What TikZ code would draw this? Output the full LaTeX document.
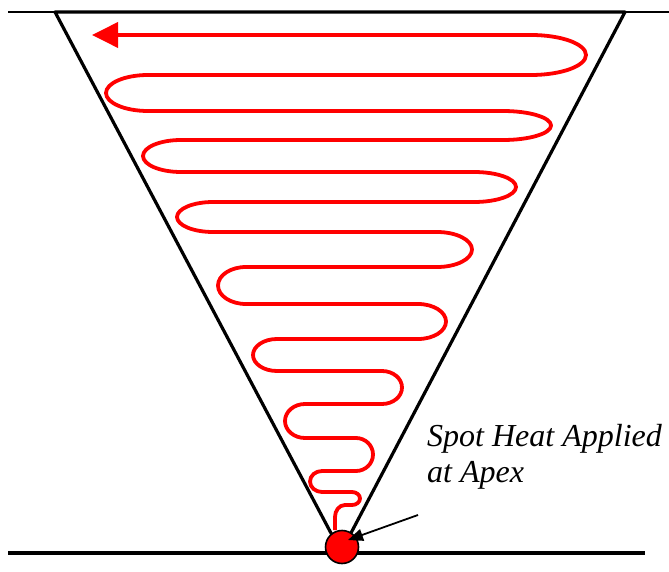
\documentclass[tikz,border=0pt]{standalone}
\usepackage{fontspec}
\setmainfont{Liberation Serif}
\usetikzlibrary{arrows.meta}

\begin{document}
\begin{tikzpicture}[x=1pt, y=1pt, line join=round]
				
				\useasboundingbox (0,0) rectangle (669,571);
				
				% Lines and cone
				\coordinate (TL) at (55,559);
				\coordinate (TR) at (625,559);
				\coordinate (P) at (341,19);
				\coordinate (G1) at (8,18);
				\coordinate (G2) at (645,18);
				\coordinate (S1) at (8,559);
				\coordinate (S2) at (669,559);
				
				\draw[black, line width=2.4pt] (S1) -- (S2);
				\draw[black, line width=3.2pt] (G1) -- (G2);
				\draw[black, line width=3.2pt] (TL) -- (P) -- (TR) -- cycle;
				
				% Heat path
				\draw[red, line width=3.8pt, -{Triangle[length=26pt, width=25pt]}]
				(335,41) -- (335,54) to[out=90, in=180] (345,66)
				-- (352,66) arc[start angle=-90, end angle=90, x radius=8, y radius=6.5]
				-- (322,79) arc[start angle=270, end angle=90, x radius=12, y radius=10.5]
				-- (356,100) arc[start angle=-90, end angle=90, x radius=17, y radius=16.5]
				-- (305,133) arc[start angle=270, end angle=90, x radius=20, y radius=17]
				-- (382,167) arc[start angle=-90, end angle=90, x radius=20, y radius=16.5]
				-- (277,200) arc[start angle=270, end angle=90, x radius=24, y radius=16]
				-- (418,232) arc[start angle=-90, end angle=90, x radius=28, y radius=17.5]
				-- (246,267) arc[start angle=270, end angle=90, x radius=28, y radius=18.5]
				-- (437,304) arc[start angle=-90, end angle=90, x radius=35, y radius=17.5]
				-- (213,339) arc[start angle=270, end angle=90, x radius=36, y radius=15]
				-- (474,369) arc[start angle=-90, end angle=90, x radius=42, y radius=15]
				-- (181,399) arc[start angle=270, end angle=90, x radius=38, y radius=16]
				-- (503,431) arc[start angle=-90, end angle=90, x radius=48, y radius=14.5]
				-- (148,460) arc[start angle=270, end angle=90, x radius=42, y radius=18]
				-- (531,496) arc[start angle=-90, end angle=90, x radius=55, y radius=20]
				-- (92,536);
				
				% Apex spot + label
				\node[circle, draw=black, line width=1.6pt, fill=red,
				inner sep=0pt, minimum size=33pt] (apex) at (342,24) {};
				
				\node[anchor=base west, align=left, inner sep=0pt,
				font=\itshape\fontsize{32}{36}\selectfont] (label) at (427,89)
				{Spot Heat Applied\\at Apex};
				
				% Pointer
				\coordinate (tail) at (418,56);
				\coordinate (hit) at (348,31);
				\draw[black, line width=1.8pt, -{Triangle[length=15pt, width=12pt]}]
				(tail) -- (hit);
				
			\end{tikzpicture}
\end{document}
